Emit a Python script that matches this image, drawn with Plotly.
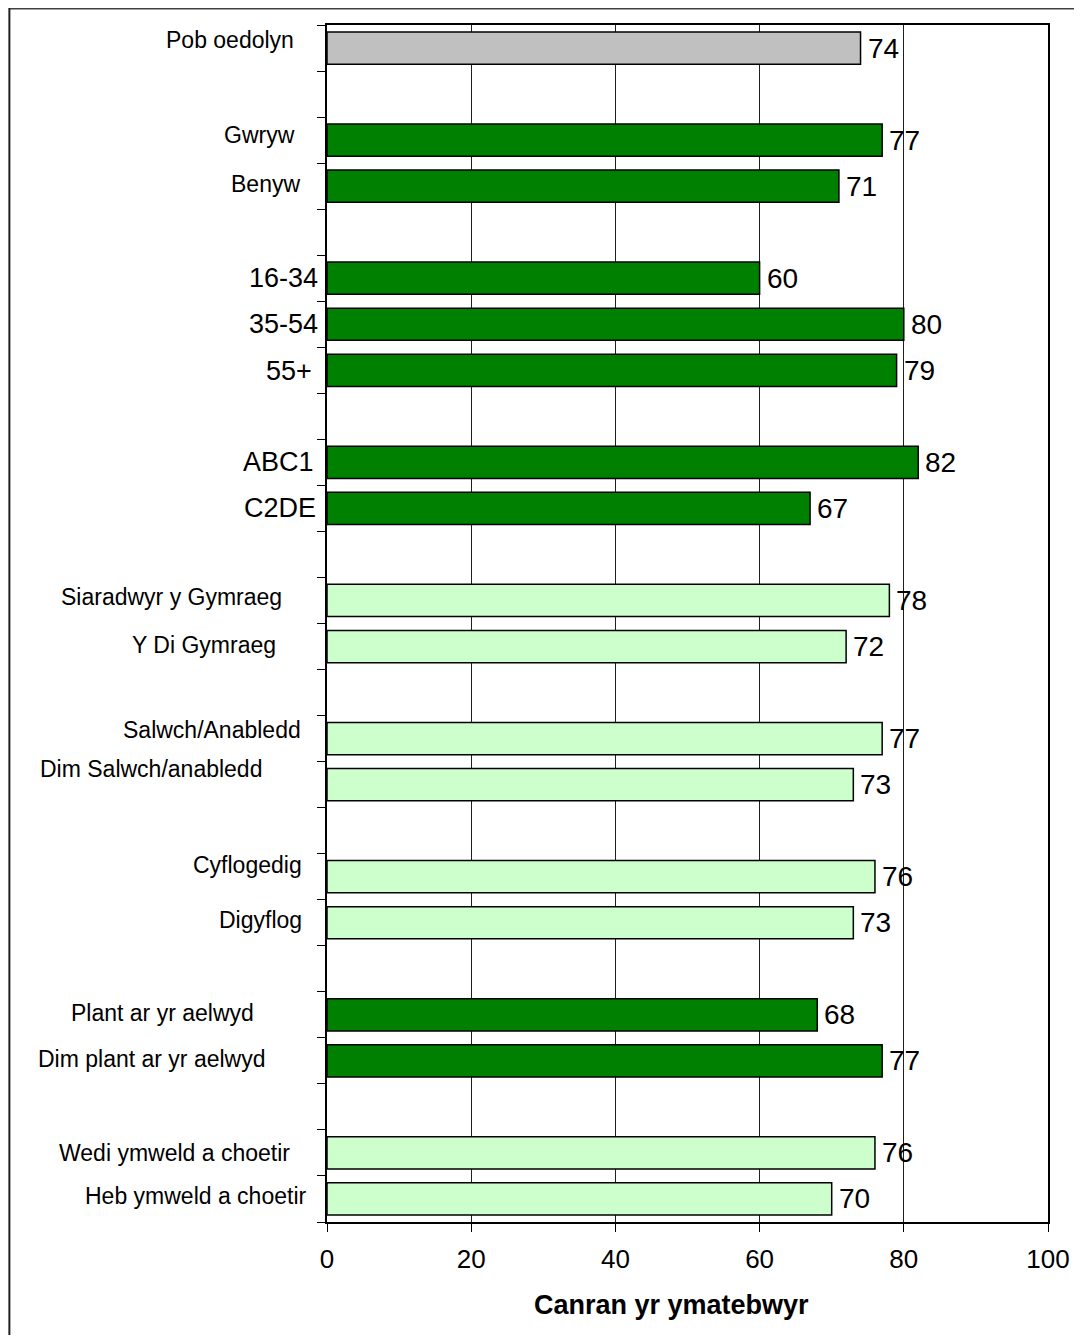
import plotly.graph_objects as go

# ---- data ----
categories = ["Pob oedolyn", "", "Gwryw", "Benyw", "", "16-34", "35-54", "55+", "",
              "ABC1", "C2DE", "", "Siaradwyr y Gymraeg", "Y Di Gymraeg", "",
              "Salwch/Anabledd", "Dim Salwch/anabledd", "", "Cyflogedig", "Digyflog", "",
              "Plant ar yr aelwyd", "Dim plant ar yr aelwyd", "",
              "Wedi ymweld a choetir", "Heb ymweld a choetir"]
values = [74, None, 77, 71, None, 60, 80, 79, None, 82, 67, None, 78, 72, None,
          77, 73, None, 76, 73, None, 68, 77, None, 76, 70]
groups = ["all", None, "dark", "dark", None, "dark", "dark", "dark", None,
          "dark", "dark", None, "light", "light", None, "light", "light", None,
          "light", "light", None, "dark", "dark", None, "light", "light"]
x_ticks = [0, 20, 40, 60, 80, 100]
x_title = "Canran yr ymatebwyr"

# ---- styling / layout ----
OFF = 8  # page body margin
W, H = 1082 - OFF, 1343 - 2 * OFF
L, R, T = 327 - OFF, 32, 25 - OFF
B = H - (1222 - OFF)
plot_w = W - L - R
plot_h = H - T - B
n = len(categories)
slot = plot_h / n
colors = {"all": "#C0C0C0", "dark": "#008000", "light": "#CCFFCC"}
FONT = "Liberation Sans, Arial, sans-serif"

# label placement in page px (right edge, centre, font size)
label_pos = {
    "Pob oedolyn": (296, 40, 23), "Gwryw": (297, 135, 23), "Benyw": (302, 184, 23),
    "16-34": (320, 278, 27), "35-54": (320, 324, 27), "55+": (314, 371, 27),
    "ABC1": (316, 462, 27), "C2DE": (318, 508, 27),
    "Siaradwyr y Gymraeg": (284, 597, 23), "Y Di Gymraeg": (278, 645, 23),
    "Salwch/Anabledd": (303, 730, 23), "Dim Salwch/anabledd": (264, 769, 23),
    "Cyflogedig": (304, 865, 23), "Digyflog": (304, 920, 23),
    "Plant ar yr aelwyd": (256, 1013, 23), "Dim plant ar yr aelwyd": (268, 1059, 23),
    "Wedi ymweld a choetir": (292, 1153, 23), "Heb ymweld a choetir": (308, 1196, 23),
}

idx = list(range(n))
fig = go.Figure()
fig.add_trace(go.Bar(
    x=values, y=idx, orientation="h",
    width=0.7,
    marker=dict(color=[colors[g] if g else "rgba(0,0,0,0)" for g in groups],
                line=dict(color="#000000", width=1.5)),
    hoverinfo="skip", showlegend=False,
))

annotations = []
for i, (c, v) in enumerate(zip(categories, values)):
    if v is None:
        continue
    annotations.append(dict(x=v, y=i, xref="x", yref="y", text=str(v), showarrow=False,
                            xanchor="left", yanchor="middle", xshift=5,
                            font=dict(family=FONT, size=28, color="#000")))
    px, py, fs = label_pos[c]
    centre = T + slot * (i + 0.5)
    annotations.append(dict(x=(px - OFF - L) / plot_w, y=i, xref="paper", yref="y",
                            text=c, showarrow=False, xanchor="right", yanchor="middle",
                            yshift=centre - (py - OFF),
                            font=dict(family=FONT, size=fs, color="#000")))
annotations.append(dict(x=(672 - OFF - L) / plot_w,
                        y=-(1305 - OFF - T - plot_h) / plot_h,
                        xref="paper", yref="paper", text="<b>" + x_title + "</b>",
                        showarrow=False, xanchor="center", yanchor="middle",
                        font=dict(family=FONT, size=27, color="#000")))

fig.update_layout(
    width=W, height=H, margin=dict(l=L, r=R, t=T, b=B),
    paper_bgcolor="white", plot_bgcolor="white",
    font=dict(family=FONT, color="#000"),
    annotations=annotations, bargap=0.3,
    shapes=[
        dict(type="line", xref="paper", yref="paper",
             x0=(0 - L) / plot_w, x1=(W + 5 - L) / plot_w,
             y0=(H - B - 0.5) / plot_h, y1=(H - B - 0.5) / plot_h,
             line=dict(color="#404040", width=2)),
        dict(type="line", xref="paper", yref="paper",
             x0=(0.5 - L) / plot_w, x1=(0.5 - L) / plot_w,
             y0=(H - B) / plot_h, y1=-(B + 5) / plot_h,
             line=dict(color="#202020", width=2)),
    ],
)
fig.update_xaxes(range=[0, 100], tickvals=x_ticks, ticks="outside", ticklen=8,
                 tickcolor="#000", showgrid=True, gridcolor="#202020", gridwidth=1,
                 showline=True, linecolor="#000", linewidth=1.5, mirror=True,
                 zeroline=False, tickfont=dict(family=FONT, size=26, color="#000"),
                 ticklabelstandoff=5)
fig.update_yaxes(range=[n - 0.5, -0.5], tickvals=[i - 0.5 for i in range(n + 1)],
                 ticktext=[""] * (n + 1), ticks="outside", ticklen=8, tickcolor="#000",
                 showgrid=False, showline=True, linecolor="#000", linewidth=1.5,
                 mirror=True, zeroline=False)

fig.write_html("out.html")
